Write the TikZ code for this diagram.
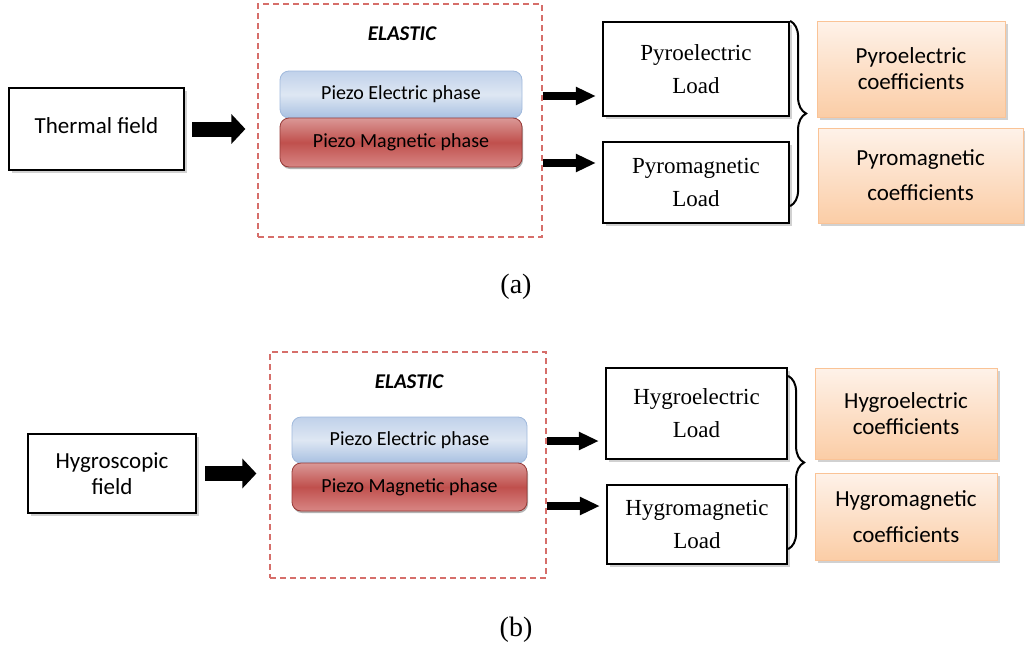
\documentclass[tikz,border=0pt]{standalone}
\usepackage{fontspec}
\setmainfont{Liberation Serif}
\newfontfamily\calib{Carlito}
\usepackage{tikz}
\usetikzlibrary{shapes,backgrounds,shadows,arrows.meta,decorations.pathreplacing}
\definecolor{dashred}{RGB}{214,110,106}
\definecolor{bluetop}{RGB}{192,209,234}
\definecolor{bluemid}{RGB}{222,231,243}
\definecolor{bluebot}{RGB}{168,192,225}
\definecolor{blueline}{RGB}{160,185,220}
\definecolor{redtop}{RGB}{218,152,150}
\definecolor{redmid}{RGB}{192,80,77}
\definecolor{redbot}{RGB}{216,134,132}
\definecolor{redline}{RGB}{150,58,55}
\definecolor{peachtop}{RGB}{254,242,233}
\definecolor{peachbot}{RGB}{251,205,166}
\definecolor{peachline}{RGB}{250,195,150}
\tikzset{
    shdw/.style={drop shadow={shadow xshift=2.5pt, shadow yshift=-2.5pt, fill=black!45, opacity=0.4}},
    field/.style={draw, line width=2.2pt, fill=white, shdw, align=center,
        font=\calib\fontsize{23}{26}\selectfont},
    elastic/.style={draw=dashred, line width=1.2pt, dash pattern=on 6pt off 4pt},
    elabel/.style={font=\calib\bfseries\itshape\fontsize{21}{24}\selectfont},
    phase/.style={draw, rounded corners=9pt, line width=0.8pt,
        font=\calib\fontsize{20}{22}\selectfont},
    ephase/.style={phase, draw=blueline, top color=bluetop, bottom color=bluebot, middle color=bluemid},
    mphase/.style={phase, draw=redline, top color=redtop, bottom color=redbot, middle color=redmid,
        drop shadow={shadow xshift=1pt, shadow yshift=-2pt, fill=black!60, opacity=0.5}},
    load/.style={draw, line width=2.2pt, fill=white, shdw, align=center,
        font=\fontsize{23}{33}\selectfont},
    coef/.style={draw=peachline, line width=0.8pt, top color=peachtop, bottom color=peachbot,
        shdw, align=center, font=\calib\fontsize{23}{26}\selectfont},
    fatarrow/.style={line width=15pt, -{Triangle[length=14pt,width=29pt]}},
    thinarrow/.style={line width=8pt, -{Triangle[length=20pt,width=17pt]}},
    brc/.style={decorate, decoration={brace, amplitude=16pt}, line width=2pt},
    capt/.style={font=\fontsize{28}{30}\selectfont}
}
\begin{document}
\begin{tikzpicture}[x=1pt, y=-1pt]
        \useasboundingbox (0,0) rectangle (1025,648);
        \node[field, minimum width=175pt, minimum height=82pt] (th) at (96.5,129) {\raisebox{7pt}{Thermal field}};
        \node[elastic, minimum width=284pt, minimum height=233pt] (el) at (400,120.5) {};
        \node[elabel] (ea) at (402,34) {ELASTIC};
        \node[ephase, minimum width=242pt, minimum height=47pt] (pe) at (401,94.5) {Piezo Electric phase};
        \node[mphase, minimum width=242pt, minimum height=49pt] (pm) at (401,142.5) {Piezo Magnetic phase};
        \node[load, minimum width=186pt, minimum height=94pt] (pl) at (696,69) {Pyroelectric\\Load};
        \node[load, minimum width=186pt, minimum height=81pt] (ml) at (696,182.5) {Pyromagnetic\\Load};
        \node[coef, minimum width=188pt, minimum height=96pt] (pc) at (911,69) {Pyroelectric\\coefficients};
        \node[coef, minimum width=205pt, minimum height=95pt] (mc) at (920.5,175.5) {Pyromagnetic\\[9pt]coefficients};
        \node[capt] (ca) at (516,287) {(a)};
        \draw[fatarrow, shorten <=7pt, shorten >=12pt] (th.east) -- (th.east -| el.west);
        \draw[thinarrow, shorten >=6pt] ([yshift=24.5pt]el.east) -- ([yshift=24.5pt]el.east -| pl.west);
        \draw[thinarrow, shorten >=6pt] ([yshift=-42.5pt]el.east) -- ([yshift=-42.5pt]el.east -| ml.west);
        \draw[brc] (pl.north east) -- ([yshift=18pt]ml.south east);
        \node[field, minimum width=168pt, minimum height=79pt] (hf) at (112,473.5) {Hygroscopic\\field};
        \node[elastic, minimum width=276pt, minimum height=226pt] (el2) at (408,465) {};
        \node[elabel] (ea2) at (409,382) {ELASTIC};
        \node[ephase, minimum width=235pt, minimum height=46pt] (pe2) at (409.5,440) {Piezo Electric phase};
        \node[mphase, minimum width=235pt, minimum height=48pt] (pm2) at (409.5,487) {Piezo Magnetic phase};
        \node[load, minimum width=181pt, minimum height=91pt] (hl) at (696.5,413.5) {Hygroelectric\\Load};
        \node[load, minimum width=180pt, minimum height=79pt] (hm) at (697,524.5) {Hygromagnetic\\Load};
        \node[coef, minimum width=182pt, minimum height=91pt] (hc) at (906,413.5) {Hygroelectric\\coefficients};
        \node[coef, minimum width=182pt, minimum height=87pt] (gc) at (906,516.5) {Hygromagnetic\\[10pt]coefficients};
        \node[capt] (cb) at (516,630) {(b)};
        \draw[fatarrow, shorten <=8pt, shorten >=13pt] (hf.east) -- (hf.east -| el2.west);
        \draw[thinarrow, shorten >=6pt] ([yshift=24pt]el2.east) -- ([yshift=24pt]el2.east -| hl.west);
        \draw[thinarrow, shorten >=6pt] ([yshift=-41pt]el2.east) -- ([yshift=-41pt]el2.east -| hm.west);
        \draw[brc] ([yshift=-9pt]hl.north east) -- ([yshift=16pt]hm.south east);
    \end{tikzpicture}
\end{document}
